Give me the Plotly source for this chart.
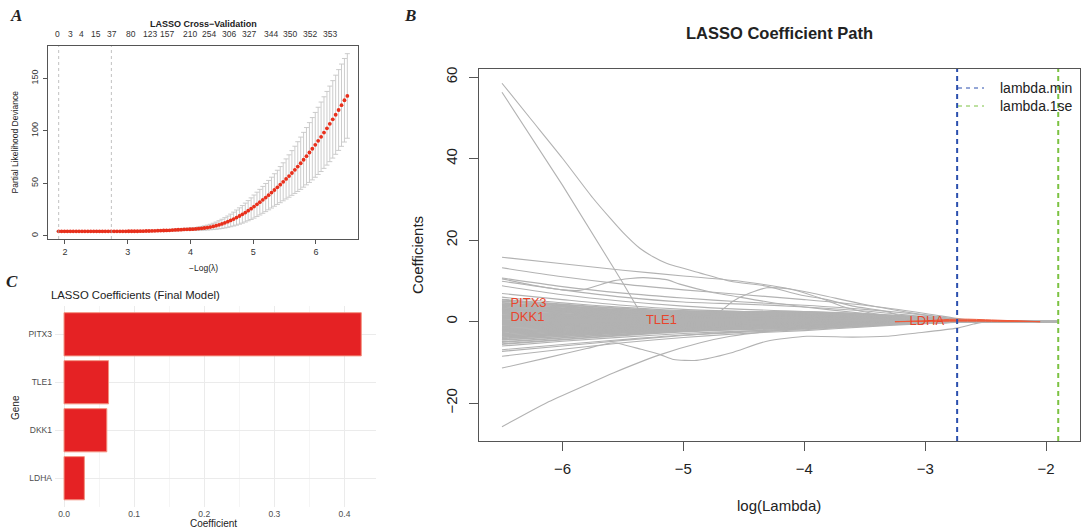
import plotly.graph_objects as go

W, H = 1081, 532
FONT = "Liberation Sans, Arial, Helvetica, sans-serif"

# ---------------- Panel A: CV curve ----------------
cv_neg_log_lambda = [
    1.900, 1.946, 1.993, 2.039, 2.086, 2.132, 2.179, 2.225, 2.272, 2.318,
    2.365, 2.411, 2.458, 2.504, 2.551, 2.597, 2.643, 2.690, 2.736, 2.783,
    2.829, 2.876, 2.922, 2.969, 3.015, 3.062, 3.108, 3.155, 3.201, 3.247,
    3.294, 3.340, 3.387, 3.433, 3.480, 3.526, 3.573, 3.619, 3.666, 3.712,
    3.759, 3.805, 3.852, 3.898, 3.944, 3.991, 4.037, 4.084, 4.130, 4.177,
    4.223, 4.270, 4.316, 4.363, 4.409, 4.456, 4.502, 4.548, 4.595, 4.641,
    4.688, 4.734, 4.781, 4.827, 4.874, 4.920, 4.967, 5.013, 5.060, 5.106,
    5.153, 5.199, 5.245, 5.292, 5.338, 5.385, 5.431, 5.478, 5.524, 5.571,
    5.617, 5.664, 5.710, 5.757, 5.803, 5.849, 5.896, 5.942, 5.989, 6.035,
    6.082, 6.128, 6.175, 6.221, 6.268, 6.314, 6.361, 6.407, 6.454, 6.500]
cv_deviance = [
    4.2, 4.2, 4.2, 4.2, 4.2, 4.2, 4.2, 4.2, 4.2, 4.2,
    4.2, 4.2, 4.2, 4.2, 4.2, 4.2, 4.2, 4.2, 4.2, 4.2,
    4.2, 4.2, 4.2, 4.2, 4.3, 4.3, 4.3, 4.3, 4.4, 4.4,
    4.5, 4.5, 4.6, 4.7, 4.8, 4.9, 5.0, 5.1, 5.2, 5.4,
    5.5, 5.7, 5.8, 6.0, 6.1, 6.2, 6.3, 6.5, 6.8, 7.1,
    7.4, 7.8, 8.3, 8.9, 9.6, 10.4, 11.3, 12.3, 13.4, 14.6,
    15.9, 17.3, 18.8, 20.4, 22.1, 23.9, 25.8, 27.8, 29.9, 32.0,
    34.2, 36.4, 38.7, 41.1, 43.6, 46.1, 48.7, 51.4, 54.1, 56.9,
    59.8, 62.8, 65.9, 69.1, 72.4, 75.8, 79.3, 82.9, 86.6, 90.4,
    94.3, 98.3, 102.4, 106.6, 110.9, 115.3, 119.8, 124.4, 129.1, 133.2]
cv_se = [
    0.4, 0.4, 0.4, 0.4, 0.4, 0.4, 0.4, 0.4, 0.4, 0.4,
    0.4, 0.4, 0.4, 0.4, 0.4, 0.4, 0.4, 0.4, 0.4, 0.4,
    0.4, 0.4, 0.4, 0.4, 0.4, 0.4, 0.4, 0.4, 0.4, 0.4,
    0.5, 0.5, 0.5, 0.5, 0.6, 0.6, 0.6, 0.7, 0.7, 0.8,
    0.8, 0.9, 0.9, 1.0, 1.1, 1.2, 1.3, 1.4, 1.6, 1.8,
    2.0, 2.3, 2.6, 3.0, 3.4, 3.9, 4.4, 4.9, 5.4, 6.0,
    6.6, 7.2, 7.8, 8.4, 9.0, 9.6, 10.3, 11.0, 11.6, 12.2,
    12.8, 13.4, 14.0, 14.7, 15.5, 16.3, 17.2, 18.1, 19.1, 20.2,
    21.3, 22.5, 23.7, 24.9, 26.1, 27.3, 28.5, 29.7, 30.9, 32.0,
    33.1, 34.1, 35.1, 36.0, 36.9, 37.7, 38.5, 39.2, 39.8, 40.3]
cv_top_pos = [1.884, 2.096, 2.266, 2.489, 2.744, 3.057, 3.352, 3.630, 4.000,
              4.290, 4.610, 4.930, 5.290, 5.590, 5.900, 6.230]
cv_top_labels = ["0", "3", "4", "15", "37", "80", "123", "157", "210", "254",
                 "306", "327", "344", "350", "352", "353"]
cv_vlines = [1.90, 2.74]

# ---------------- Panel B: coefficient paths ----------------
band_x = [-6.5, -6.0, -5.5, -5.0, -4.5, -4.0, -3.5, -3.0, -2.7, -2.5, -1.9]
band_paths = [
    [15.8, 14.2, 12.6, 11.2, 9.8, 7.4, 4.2, 1.6, 0.4, 0, 0],
    [13.2, 11.0, 9.2, 7.8, 6.6, 5.4, 4.0, 2.0, 0.6, 0, 0],
    [10.7, 8.6, 7.0, 5.8, 4.8, 4.0, 3.0, 1.6, 0.5, 0, 0],
    [9.9, 7.8, 6.0, 4.8, 4.3, 3.6, 2.6, 1.2, 0.4, 0, 0],
    [8.8, 6.6, 5.0, 3.8, 3.0, 2.5, 1.8, 0.9, 0.3, 0, 0],
    [6.9, 5.4, 4.0, 3.0, 2.5, 2.2, 1.6, 0.8, 0.25, 0, 0],
    [6.0, 4.6, 3.5, 2.7, 2.4, 2.2, 1.5, 0.7, 0.2, 0, 0],
    [5.4, 4.2, 3.2, 2.5, 2.4, 2.4, 1.9, 1.1, 0.4, 0, 0],
    [5.0, 3.9, 2.9, 2.3, 2.2, 2.2, 1.7, 1.0, 0.35, 0, 0],
    [4.6, 3.6, 2.7, 2.1, 2.0, 1.9, 1.5, 0.9, 0.3, 0, 0],
    [4.3, 3.3, 2.5, 1.9, 1.8, 1.7, 1.4, 0.8, 0.3, 0, 0],
    [4.0, 3.1, 2.3, 1.8, 1.7, 1.6, 1.3, 0.7, 0.25, 0, 0],
    [3.7, 2.9, 2.1, 1.6, 1.5, 1.4, 1.1, 0.6, 0.2, 0, 0],
    [3.4, 2.6, 1.9, 1.5, 1.4, 1.3, 1.0, 0.55, 0.2, 0, 0],
    [3.1, 2.4, 1.8, 1.4, 1.3, 1.2, 0.9, 0.5, 0.15, 0, 0],
    [2.8, 2.2, 1.6, 1.2, 1.1, 1.0, 0.8, 0.45, 0.15, 0, 0],
    [2.5, 1.9, 1.4, 1.1, 1.0, 0.9, 0.7, 0.4, 0.12, 0, 0],
    [2.2, 1.7, 1.3, 1.0, 0.9, 0.8, 0.6, 0.35, 0.1, 0, 0],
    [1.9, 1.5, 1.1, 0.85, 0.75, 0.7, 0.5, 0.3, 0.1, 0, 0],
    [1.6, 1.2, 0.9, 0.7, 0.6, 0.55, 0.45, 0.25, 0.08, 0, 0],
    [1.3, 1.0, 0.75, 0.6, 0.5, 0.45, 0.35, 0.2, 0.06, 0, 0],
    [1.0, 0.8, 0.6, 0.45, 0.4, 0.35, 0.25, 0.15, 0.05, 0, 0],
    [0.7, 0.55, 0.4, 0.3, 0.3, 0.25, 0.2, 0.1, 0.03, 0, 0],
    [0.4, 0.3, 0.25, 0.2, 0.15, 0.12, 0.1, 0.05, 0.02, 0, 0],
    [0.1, 0.1, 0.1, 0.05, 0.05, 0.05, 0.03, 0.02, 0, 0, 0],
    [-0.2, -0.15, -0.1, -0.1, -0.05, -0.05, -0.02, 0, 0, 0, 0],
    [-0.5, -0.4, -0.3, -0.25, -0.2, -0.15, -0.08, -0.03, 0, 0, 0],
    [-0.8, -0.65, -0.5, -0.4, -0.3, -0.25, -0.12, -0.05, 0, 0, 0],
    [-1.1, -0.9, -0.7, -0.55, -0.45, -0.35, -0.18, -0.07, 0, 0, 0],
    [-1.4, -1.1, -0.85, -0.7, -0.55, -0.45, -0.25, -0.09, -0.01, 0, 0],
    [-1.7, -1.35, -1.05, -0.8, -0.65, -0.55, -0.3, -0.11, -0.02, 0, 0],
    [-2.0, -1.6, -1.2, -0.95, -0.75, -0.65, -0.35, -0.13, -0.02, 0, 0],
    [-2.3, -1.85, -1.4, -1.1, -0.9, -0.75, -0.4, -0.15, -0.03, 0, 0],
    [-2.6, -2.1, -1.6, -1.2, -1.0, -0.85, -0.45, -0.17, -0.03, 0, 0],
    [-2.9, -2.35, -1.8, -1.35, -1.1, -0.95, -0.5, -0.19, -0.04, 0, 0],
    [-3.2, -2.6, -2.0, -1.5, -1.2, -1.05, -0.55, -0.21, -0.04, 0, 0],
    [-3.5, -2.85, -2.2, -1.65, -1.3, -1.15, -0.6, -0.23, -0.05, 0, 0],
    [-3.8, -3.1, -2.4, -1.8, -1.4, -1.25, -0.65, -0.25, -0.05, 0, 0],
    [-4.1, -3.3, -2.55, -1.9, -1.5, -1.35, -0.7, -0.27, -0.06, 0, 0],
    [-4.5, -3.6, -2.75, -2.05, -1.6, -1.45, -0.75, -0.3, -0.06, 0, 0],
    [-5.0, -4.0, -3.05, -2.25, -1.75, -1.5, -0.8, -0.32, -0.07, 0, 0],
    [-5.5, -4.4, -3.35, -2.45, -1.9, -1.6, -0.85, -0.34, -0.07, 0, 0],
    [-6.0, -4.8, -3.8, -2.9, -2.3, -1.8, -1.0, -0.4, -0.1, 0, 0],
    [-6.9, -5.6, -4.4, -3.3, -2.6, -2.0, -1.1, -0.4, -0.1, 0, 0],
    [-7.3, -6.0, -4.6, -3.4, -2.4, -1.7, -0.9, -0.3, -0.08, 0, 0],
    [-8.5, -6.8, -5.2, -3.9, -2.9, -2.2, -1.3, -0.5, -0.1, 0, 0],
]

top1_x = [-6.5, -6.25, -6.0, -5.75, -5.6, -5.5, -5.36, -5.25, -5.14, -4.86, -4.61, -4.31, -4.04,
          -3.81, -3.6, -3.32, -3.15, -2.95, -2.6, -1.9]
top1_y = [58.5, 49.3, 40.1, 30.4, 25.2, 21.9, 18.0, 15.9, 14.3, 11.9, 9.9, 8.7, 6.6,
          5.4, 3.8, 2.5, 0.9, 0.1, 0, 0]
top2_x = [-6.5, -6.0, -5.5, -5.36, -5.2, -5.0, -4.5, -4.0, -3.5, -3.0, -2.6, -1.9]
top2_y = [56.3, 33.5, 9.5, 2.4, 1.6, 1.4, 1.2, 0.9, 0.5, 0.15, 0, 0]
bump_x = [-6.5, -6.25, -6.0, -5.85, -5.58, -5.44, -5.33, -5.14, -5.03, -4.75, -4.61,
          -4.3, -4.0, -3.5, -3.0, -2.6, -1.9]
bump_y = [10.5, 9.0, 7.8, 7.7, 10.0, 10.6, 10.8, 10.3, 9.2, 7.1, 6.4,
          4.8, 3.6, 2.0, 0.6, 0, 0]
hump_x = [-6.5, -6.0, -5.5, -5.0, -4.8, -4.7, -4.59, -4.45, -4.31, -4.12, -3.87,
          -3.65, -3.37, -3.1, -2.9, -2.6, -1.9]
hump_y = [2.0, 1.5, 1.2, 1.3, 1.8, 2.5, 5.0, 7.0, 8.3, 8.0, 5.8,
          3.4, 1.7, 0.6, 0.1, 0, 0]
dip_x = [-6.5, -6.13, -5.8, -5.58, -5.5, -5.35, -5.19, -5.08, -4.89, -4.61, -4.31,
         -3.98, -3.6, -3.32, -3.07, -2.74, -2.6, -2.5, -1.9]
dip_y = [-11.4, -8.9, -6.6, -5.2, -5.6, -6.8, -8.1, -9.3, -9.5, -7.7, -4.8,
         -3.6, -3.8, -3.6, -2.8, -1.6, -0.6, 0, 0]
low_x = [-6.5, -6.13, -5.8, -5.58, -5.19, -4.86, -4.61, -4.3, -4.0, -3.5, -3.0, -2.6, -1.9]
low_y = [-25.8, -19.9, -15.5, -12.6, -8.1, -5.2, -3.6, -2.4, -1.6, -0.8, -0.3, 0, 0]

sel_x = [-3.25, -3.0, -2.8, -2.65, -2.5, -2.3, -2.15, -2.05]
sel_paths = {
    "PITX3": [0.0, 0.2, 0.55, 0.6, 0.45, 0.25, 0.08, 0],
    "DKK1": [0.0, 0.1, 0.3, 0.35, 0.3, 0.15, 0.05, 0],
    "TLE1": [0.0, 0.1, 0.25, 0.3, 0.25, 0.12, 0.04, 0],
    "LDHA": [0.0, 0.05, 0.1, 0.1, 0.08, 0.05, 0.02, 0],
}
gene_label_text = ["PITX3", "DKK1", "TLE1", "LDHA"]
gene_label_x = [-6.43, -6.43, -5.31, -3.13]
gene_label_y = [4.3, 0.9, 0.2, 0.0]

lambda_min = -2.736
lambda_1se = -1.90
pathB_yrange = [-29.3, 62.0]
legend_labels = ["lambda.min", "lambda.1se"]
legend_colors = ["#2b4fae", "#7cc242"]

# ---------------- Panel C: final coefficients ----------------
genes = ["LDHA", "DKK1", "TLE1", "PITX3"]
coefs = [0.029, 0.061, 0.0635, 0.424]

fig = go.Figure()

# Panel A
for v in cv_vlines:
    fig.add_vline(x=v, line=dict(color="#a8a8a8", width=0.7, dash="dot"), xref="x", yref="y")
fig.add_trace(go.Scatter(
    x=cv_neg_log_lambda, y=cv_deviance, mode="markers",
    marker=dict(color="#e8301c", size=3.8),
    error_y=dict(type="data", array=cv_se, color="#c6c6c6", thickness=0.9, width=2.5),
    xaxis="x", yaxis="y", showlegend=False))

# Panel B grey paths
GREY = "#b2b2b2"
for p in band_paths:
    w = 1.8 if abs(p[0]) < 5.6 else 1.1
    fig.add_trace(go.Scatter(x=band_x, y=p, mode="lines", line=dict(color=GREY, width=w, shape="spline", smoothing=0.8),
                             xaxis="x2", yaxis="y2", showlegend=False, hoverinfo="skip"))
for xs, ys, shp in [(top1_x, top1_y, "spline"), (top2_x, top2_y, "linear"), (bump_x, bump_y, "spline"),
                    (hump_x, hump_y, "spline"), (dip_x, dip_y, "spline"), (low_x, low_y, "spline")]:
    fig.add_trace(go.Scatter(x=xs, y=ys, mode="lines", line=dict(color=GREY, width=1.1, shape=shp, smoothing=0.6),
                             xaxis="x2", yaxis="y2", showlegend=False, hoverinfo="skip"))
for g, vals in sel_paths.items():
    fig.add_trace(go.Scatter(x=sel_x, y=vals, mode="lines", line=dict(color="#ef5a3a", width=1.0, shape="spline"),
                             xaxis="x2", yaxis="y2", showlegend=False, hoverinfo="skip"))
fig.add_trace(go.Scatter(x=gene_label_x, y=gene_label_y, mode="text", text=gene_label_text,
                         textposition="middle right", textfont=dict(color="#e8452c", size=13, family=FONT),
                         xaxis="x2", yaxis="y2", showlegend=False, hoverinfo="skip"))
for xv, col in [(lambda_min, legend_colors[0]), (lambda_1se, legend_colors[1])]:
    fig.add_trace(go.Scatter(x=[xv, xv], y=pathB_yrange, mode="lines", showlegend=False, hoverinfo="skip",
                             line=dict(color=col, width=2, dash="5px,4px"), xaxis="x2", yaxis="y2"))

# Panel C
fig.add_trace(go.Bar(x=coefs, y=genes, orientation="h", width=0.9,
                     marker=dict(color="#e52224", line=dict(color="#f3917f", width=1)),
                     xaxis="x3", yaxis="y3", showlegend=False))

AX = "#555555"
base_ax = dict(showline=True, linecolor=AX, linewidth=1, mirror=True, ticks="outside",
               tickcolor=AX, showgrid=False, zeroline=False)

def px_x(a, b):
    return [a / W, b / W]

def px_y(top, bottom):
    return [1 - bottom / H, 1 - top / H]

fig.update_layout(
    template="none",
    width=W, height=H, margin=dict(l=0, r=0, t=0, b=0),
    paper_bgcolor="white", plot_bgcolor="white", showlegend=False,
    font=dict(family=FONT, color="#222"),
    xaxis=dict(base_ax, domain=px_x(48, 358), range=[1.73, 6.67], tickvals=[2, 3, 4, 5, 6],
               ticklen=4, tickfont=dict(size=9, color="#333"), anchor="y"),
    yaxis=dict(base_ax, domain=px_y(46, 239), range=[-3.1, 180.8], tickvals=[0, 50, 100, 150],
               ticklen=4, tickangle=-90, ticklabelstandoff=1, tickfont=dict(size=9, color="#333"), anchor="x"),
    xaxis2=dict(base_ax, domain=px_x(479, 1080), range=[-6.69, -1.72], tickvals=[-6, -5, -4, -3, -2],
                ticklen=9, ticklabelstandoff=5, tickfont=dict(size=15, color="#222"), anchor="y2"),
    yaxis2=dict(base_ax, domain=px_y(69, 441), range=pathB_yrange, tickvals=[-20, 0, 20, 40, 60],
                ticklen=9, tickangle=-90, ticklabelstandoff=6, tickfont=dict(size=15, color="#222"), anchor="x2"),
    xaxis3=dict(domain=px_x(55, 375.5), range=[-0.0129, 0.4443], tickvals=[0, 0.1, 0.2, 0.3, 0.4],
                ticktext=["0.0", "0.1", "0.2", "0.3", "0.4"], showgrid=True, gridcolor="#ebebeb", gridwidth=1,
                minor=dict(dtick=0.05, tick0=0.05, showgrid=True, gridcolor="#f5f5f5", gridwidth=0.6),
                zeroline=False, showline=False, ticks="", tickfont=dict(size=8.5, color="#4d4d4d"), anchor="y3"),
    yaxis3=dict(domain=px_y(305.5, 507), range=[-0.6, 3.6], categoryorder="array", categoryarray=genes,
                showgrid=True, gridcolor="#ebebeb", gridwidth=1, zeroline=False, showline=False, ticks="",
                tickfont=dict(size=8.5, color="#4d4d4d"), ticklabelstandoff=2, anchor="x3"),
    bargap=0.1,
)

ann = []
def add_ann(text, x, y, size, angle=0, xanchor="center", color="#222", family=FONT, yanchor="middle"):
    ann.append(dict(text=text, x=x / W, y=1 - y / H, xref="paper", yref="paper", showarrow=False,
                    font=dict(size=size, color=color, family=family), textangle=angle,
                    xanchor=xanchor, yanchor=yanchor))

SERIF = "Liberation Serif, Times New Roman, serif"
add_ann("<b><i>A</i></b>", 16, 15, 17, family=SERIF)
add_ann("<b><i>B</i></b>", 410, 15, 17, family=SERIF)
add_ann("<b><i>C</i></b>", 12, 281, 17, family=SERIF)
add_ann("<b>LASSO Cross−Validation</b>", 203, 24, 9)
add_ann("Partial Likelihood Deviance", 15, 142.5, 8.5, angle=-90)
add_ann("−Log(λ)", 203, 268, 8.5)
add_ann("<b>LASSO Coefficient Path</b>", 779, 33, 16.5)
add_ann("log(Lambda)", 779, 505, 15)
add_ann("Coefficients", 417, 255, 15, angle=-90)
add_ann("LASSO Coefficients (Final Model)", 49, 295, 11.3, xanchor="left")
add_ann("Coefficient", 213, 523, 10)
add_ann("Gene", 15, 407, 10, angle=-90)
for pos, lab in zip(cv_top_pos, cv_top_labels):
    ann.append(dict(text=lab, x=pos, y=1 - 34 / H, xref="x", yref="paper", showarrow=False,
                    font=dict(size=8.5, color="#333", family=FONT), xanchor="center", yanchor="middle"))

# manual legend (panel B)
shapes = []
for i, (lab, col) in enumerate(zip(legend_labels, legend_colors)):
    yy = 88 + 18 * i
    shapes.append(dict(type="line", xref="paper", yref="paper", x0=958 / W, x1=984 / W,
                       y0=1 - yy / H, y1=1 - yy / H, line=dict(color=col, width=1, dash="4px,4px")))
    add_ann(lab, 998, yy, 14, xanchor="left")

fig.update_layout(annotations=ann, shapes=list(fig.layout.shapes) + shapes)

fig.write_html("out.html")
